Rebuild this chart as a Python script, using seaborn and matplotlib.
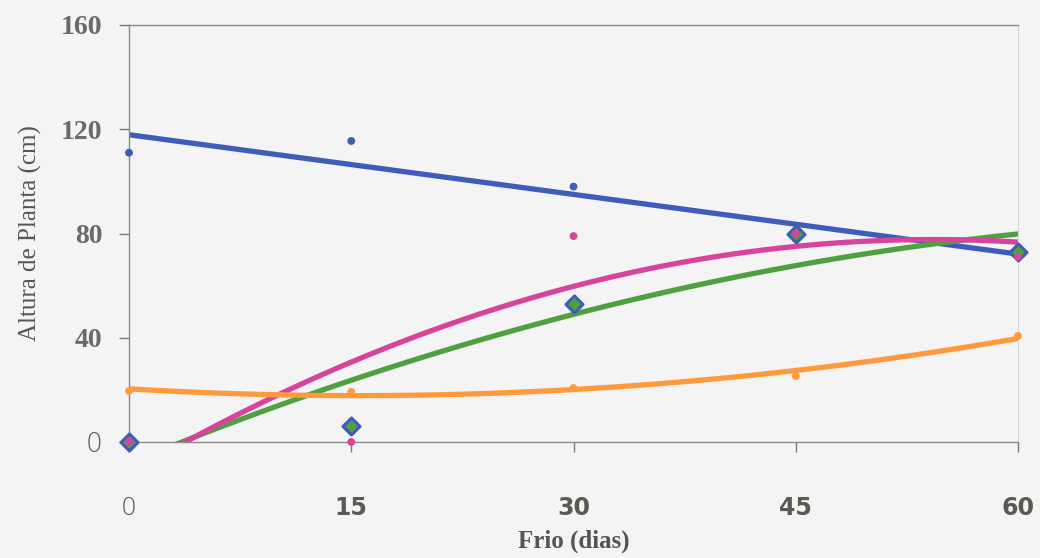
import matplotlib
matplotlib.use("Agg")
import matplotlib.pyplot as plt
import seaborn as sns
import numpy as np

# Data
frio_dias = [0, 15, 30, 45, 60]
serie_azul = [111, 115.5, 98, 78, 72.5]
serie_rosa = [0, 0, 79, 80, 71]
serie_verde = [0, 6, 53, 80, 73]
serie_laranja = [19.6, 19.2, 20.7, 25.3, 40.7]
x_ticks = [0, 15, 30, 45, 60]
y_ticks = [0, 40, 80, 120, 160]

c_blue = "#3E5DB8"
c_pink = "#D8449B"
c_green = "#4FA03E"
c_orange = "#FF9A3C"
bg = "#F4F4F4"

sns.set_theme(style="white")
fig = plt.figure(figsize=(10.4, 5.58), dpi=100, facecolor=bg)
ax = fig.add_axes([129/1040, 1-442/558, (1018-129)/1040, (442-25)/558])
ax.set_facecolor(bg)

lw = 3.8
# trend lines
sns.regplot(x=frio_dias, y=serie_azul, order=1, ci=None, scatter=False, ax=ax,
            line_kws=dict(color=c_blue, lw=lw, zorder=2))
sns.regplot(x=frio_dias, y=serie_verde, order=2, ci=None, scatter=False, ax=ax,
            line_kws=dict(color=c_green, lw=lw, zorder=2))
sns.regplot(x=frio_dias, y=serie_rosa, order=2, ci=None, scatter=False, ax=ax,
            line_kws=dict(color=c_pink, lw=lw, zorder=2))
sns.regplot(x=frio_dias, y=serie_laranja, order=2, ci=None, scatter=False, ax=ax,
            line_kws=dict(color=c_orange, lw=lw, zorder=2))

# points
sns.scatterplot(x=frio_dias, y=serie_azul, ax=ax, color=c_blue, s=32, edgecolor="none",
                clip_on=False, zorder=4)
sns.scatterplot(x=frio_dias, y=serie_verde, ax=ax, color=c_green, s=75, marker="D",
                edgecolor=c_blue, linewidth=2.2, clip_on=False, zorder=4)
sns.scatterplot(x=frio_dias, y=serie_rosa, ax=ax, color=c_pink, s=32, edgecolor="none",
                clip_on=False, zorder=5)
sns.scatterplot(x=frio_dias, y=serie_laranja, ax=ax, color=c_orange, s=32, edgecolor="none",
                clip_on=False, zorder=5)

ax.set_xlim(0, 60)
ax.set_ylim(0, 160)

# spines
for s in ["left", "bottom", "top"]:
    ax.spines[s].set_color("#8a8a8a")
    ax.spines[s].set_linewidth(1.0)
ax.spines["right"].set_color("#d4d4dc")
ax.spines["right"].set_linewidth(0.8)
ax.spines["right"].set_linestyle((0, (1, 1)))

ax.set_yticks(y_ticks)
ax.set_yticklabels([str(v) for v in y_ticks])
ax.set_xticks(x_ticks)
ax.set_xticklabels([str(v) for v in x_ticks])
ax.tick_params(axis="y", direction="out", length=7, width=1, color="#777777",
               pad=12, left=True)
ax.tick_params(axis="x", direction="out", length=7, width=1, color="#777777",
               pad=32, bottom=True)

for lab in ax.get_yticklabels():
    if lab.get_text() == "0":
        lab.set_fontfamily("DejaVu Sans")
        lab.set_fontweight("light")
        lab.set_fontsize(19)
        lab.set_color("#555555")
    else:
        lab.set_fontfamily("Liberation Serif")
        lab.set_fontsize(20)
        lab.set_fontweight("bold")
        lab.set_color("#6a6a6a")
for lab in ax.get_xticklabels():
    if lab.get_text() == "0":
        lab.set_fontfamily("DejaVu Sans")
        lab.set_fontweight("light")
        lab.set_fontsize(18)
        lab.set_color("#555555")
    else:
        lab.set_fontfamily("DejaVu Sans")
        lab.set_fontweight("bold")
        lab.set_fontsize(17)
        lab.set_color("#5a5a52")

ax.set_ylabel("Altura de Planta (cm)", fontfamily="Liberation Serif", fontsize=18,
              color="#555555", labelpad=14)
ax.set_xlabel("Frio (dias)", fontfamily="Liberation Serif", fontsize=18,
              fontweight="bold", color="#555555", labelpad=7)

fig.savefig("out.png", dpi=100, facecolor=bg)
